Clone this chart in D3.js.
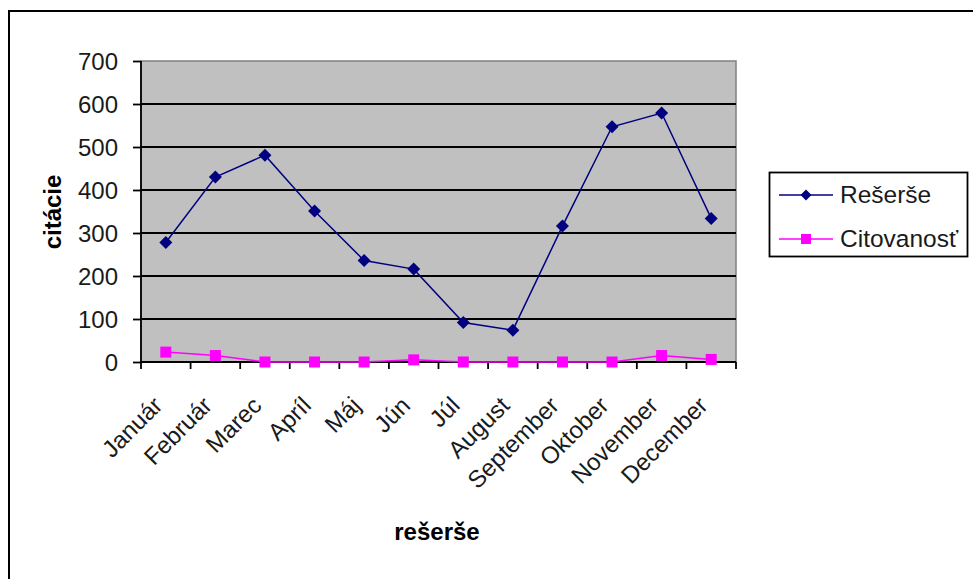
<!DOCTYPE html>
<html><head><meta charset="utf-8">
<script src="https://cdn.jsdelivr.net/npm/d3@7"></script>
<style>body{margin:0;background:#fff}svg{display:block}text{font-family:Arial,"Liberation Sans",sans-serif}</style>
</head><body>
<svg id="c" width="973" height="579"></svg>
<script>
const months = ["Január","Február","Marec","Apríl","Máj","Jún","Júl","August","September","Oktober","November","December"];
const reserse = [278,430,481,351,236,216,92,74,316,547,579,334];
const citovanost = [23,15,0,0,0,5,0,0,0,0,15,6];
const yTicks = [0,100,200,300,400,500,600,700];
const seriesNames = ["Rešerše","Citovanosť"];

const svg = d3.select("#c");
const L=141,R=736,T=61,B=362;
const FONT = "Arial,'Liberation Sans',sans-serif";
// outer frame
svg.append("rect").attr("x",9).attr("y",11).attr("width",1000).attr("height",1000).attr("fill","#fff").attr("stroke","#000").attr("stroke-width",2);

const x = d3.scaleBand().domain(months).range([L,R]);
const y = d3.scaleLinear().domain([0,700]).range([B,T]);

svg.append("rect").attr("x",L).attr("y",T).attr("width",R-L).attr("height",B-T).attr("fill","#c0c0c0").attr("stroke","#808080").attr("stroke-width",1.5);
svg.append("g").selectAll("line").data(yTicks.filter(d=>d>0&&d<700)).join("line")
  .attr("x1",L).attr("x2",R).attr("y1",d=>y(d)).attr("y2",d=>y(d)).attr("stroke","#000").attr("stroke-width",1.8);

// y axis
const ya = svg.append("g").attr("transform",`translate(${L},0)`).call(d3.axisLeft(y).tickValues(yTicks).tickSize(8).tickPadding(15));
ya.select(".domain").attr("stroke","#000").attr("stroke-width",1.8).attr("d",`M0,${T}V${B}`);
ya.selectAll(".tick line").attr("stroke","#000").attr("stroke-width",1.8);
ya.selectAll(".tick text").attr("font-size",24).attr("fill","#1a1a1a").attr("font-family",FONT).attr("dy","0.34em");

// x axis
const xa = svg.append("g").attr("transform",`translate(0,${B})`);
xa.append("line").attr("x1",L).attr("x2",R).attr("y1",0).attr("y2",0).attr("stroke","#000").attr("stroke-width",1.8);
const bounds = months.map(m=>x(m)).concat([R]);
xa.selectAll("line.t").data(bounds).join("line").attr("class","t")
  .attr("x1",d=>d).attr("x2",d=>d).attr("y1",0).attr("y2",7).attr("stroke","#000").attr("stroke-width",1.8);
xa.selectAll("text").data(months).join("text")
  .attr("transform",d=>`translate(${x(d)+x.bandwidth()/2-2},${45}) rotate(-45)`)
  .attr("text-anchor","end").attr("font-size",24).attr("fill","#1a1a1a").text(d=>d);

// lines
const line = d3.line().x((d,i)=>x(months[i])+x.bandwidth()/2).y(d=>y(d));
svg.append("path").datum(reserse).attr("d",line).attr("fill","none").attr("stroke","#000080").attr("stroke-width",1.5);
svg.append("path").datum(citovanost).attr("d",line).attr("fill","none").attr("stroke","#ff00ff").attr("stroke-width",1.5);
const diamond = "M0,-6.5L6.5,0L0,6.5L-6.5,0Z";
svg.append("g").selectAll("path").data(reserse).join("path")
  .attr("transform",(d,i)=>`translate(${x(months[i])+x.bandwidth()/2},${y(d)})`).attr("d",diamond).attr("fill","#000080");
svg.append("g").selectAll("rect").data(citovanost).join("rect")
  .attr("x",(d,i)=>x(months[i])+x.bandwidth()/2-5.5).attr("y",d=>y(d)-5.5).attr("width",11).attr("height",11).attr("fill","#ff00ff");

// axis titles
svg.append("text").attr("transform","translate(61,212) rotate(-90)").attr("text-anchor","middle").attr("font-size",24).attr("font-weight","bold").text("citácie");
svg.append("text").attr("x",437).attr("y",540).attr("text-anchor","middle").attr("font-size",24).attr("font-weight","bold").text("rešerše");

// legend
const lg = svg.append("g");
lg.append("rect").attr("x",769.5).attr("y",172.5).attr("width",198).attr("height",84).attr("fill","#fff").attr("stroke","#000").attr("stroke-width",1.8);
const cols=["#000080","#ff00ff"];
seriesNames.forEach((n,i)=>{
  const yy = 195 + i*44;
  lg.append("line").attr("x1",779).attr("x2",833).attr("y1",yy).attr("y2",yy).attr("stroke",cols[i]).attr("stroke-width",1.5);
  if(i===0) lg.append("path").attr("transform",`translate(806,${yy})`).attr("d","M0,-5.5L5.5,0L0,5.5L-5.5,0Z").attr("fill",cols[i]);
  else lg.append("rect").attr("x",801).attr("y",yy-5).attr("width",10).attr("height",10).attr("fill",cols[i]);
  lg.append("text").attr("x",840).attr("y",yy+8).attr("font-size",24.5).attr("fill","#1a1a1a").text(n);
});
</script>
</body></html>
